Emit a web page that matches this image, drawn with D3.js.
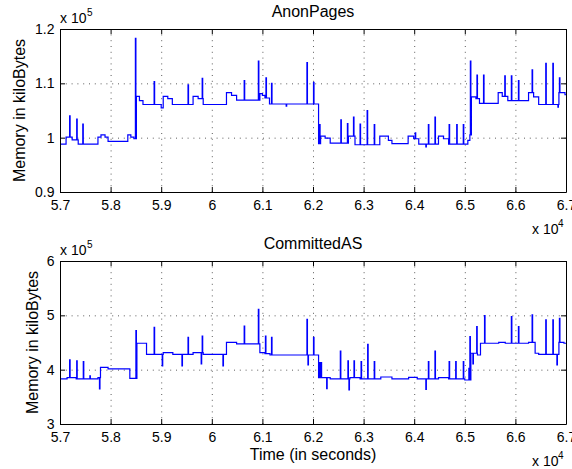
<!DOCTYPE html>
<meta charset="utf-8">
<style>
    body {margin: 0; background: #fff;}
    svg {font-family: 'Liberation Sans', Arial, Helvetica, sans-serif;}
    .grid line {stroke: #333; stroke-width: 0.8; stroke-dasharray: 1,4.8;}
    .grid path {display: none;}
    .axis path, .axis line {stroke: #000; stroke-width: 1;}
    .axis text {font-size: 14px; fill: #000;}
</style>

<svg width="572" height="469"></svg>

<script src="https://cdnjs.cloudflare.com/ajax/libs/d3/7.8.5/d3.min.js"></script>
<script>

// time axis ticks (seconds) and y ticks (kB)
var timeTicks = [57000, 58000, 59000, 60000, 61000, 62000, 63000, 64000, 65000, 66000, 67000];
var anonTicks = [90000, 100000, 110000, 120000];
var committedTicks = [300000, 400000, 500000, 600000];

// AnonPages: step levels [time, kB] and spikes [time, peak kB]
var anonSteps = [
  [57000, 98800], [57120, 100100], [57240, 99600], [57360, 98800], [57750, 100100],
  [57810, 100500], [57890, 100100], [57950, 99300], [58340, 100500], [58400, 100100],
  [58460, 99800], [58510, 107600], [58570, 106800], [58640, 106100], [59000, 105500],
  [59040, 107600], [59130, 107200], [59220, 106100], [59630, 107600], [59730, 107200],
  [59830, 106100], [60290, 108300], [60390, 107800], [60490, 106900], [60950, 108100],
  [61000, 107800], [61050, 107300], [61140, 106200], [62110, 98900], [62150, 100300],
  [62240, 99900], [62340, 99000], [62700, 100300], [62830, 98700], [63320, 100300],
  [63490, 99500], [63560, 98900], [63880, 100300], [63990, 99800], [64090, 98800],
  [64480, 100300], [64580, 99800], [64680, 98800], [65060, 99500], [65100, 100500],
  [65130, 107500], [65220, 107200], [65290, 106300], [65660, 108300], [65740, 107600],
  [65850, 106800], [66260, 108300], [66360, 107500], [66460, 106100], [66860, 108300],
  [66980, 107900], [67000, 107900]
];
var anonSpikes = [
  [57190, 104000], [57330, 103400], [57450, 102500], [58490, 118300], [58860, 110300],
  [59530, 109700], [59810, 110900], [60640, 110500], [60920, 114100], [61070, 111000],
  [61180, 110000], [61470, 105800], [61880, 113800], [62010, 110200], [62130, 102400],
  [62550, 103300], [62680, 102600], [62800, 103800], [62930, 102500], [63070, 105000],
  [63210, 102400], [64020, 100900], [64230, 98300], [64280, 102400], [64410, 103800],
  [64690, 102400], [64840, 102400], [64970, 102400], [65110, 114100], [65240, 111500],
  [65370, 111500], [65790, 111400], [65920, 111400], [66060, 110500], [66330, 112500],
  [66600, 113700], [66740, 113700], [66840, 105600], [66870, 111000]
];

// CommittedAS
var committedSteps = [
  [57000, 382900], [57140, 385300], [57320, 382900], [57750, 385300], [57800, 404400],
  [57950, 401300], [58380, 384100], [58520, 448600], [58710, 428300], [59040, 431300],
  [59230, 428300], [59630, 431300], [59830, 428300], [60290, 450400], [60490, 447300],
  [60950, 431300], [61050, 429500], [61150, 427000], [62110, 385300], [62340, 382900],
  [62730, 385300], [62930, 382900], [63340, 386500], [63560, 382900], [63890, 385700],
  [64060, 382900], [64480, 385300], [64680, 382900], [65000, 381000], [65120, 430200],
  [65250, 427000], [65310, 448600], [65670, 450400], [65800, 448600], [66260, 450400],
  [66390, 430200], [66460, 428300], [66860, 450400], [66960, 448600], [67000, 448600]
];
var committedSpikes = [
  [57190, 417900], [57330, 416000], [57460, 414700], [57590, 388400], [57780, 364500],
  [58500, 471800], [58860, 478000], [59020, 406800], [59410, 406800], [59530, 459600],
  [59790, 410500], [59810, 462000], [60220, 407000], [60640, 480400], [60920, 511200],
  [61060, 462000], [61180, 459600], [61880, 492800], [61900, 408600], [62010, 459600],
  [62130, 412900], [62160, 412900], [62270, 365000], [62540, 434400], [62690, 416000],
  [62710, 362600], [62810, 416000], [62950, 414700], [63080, 446700], [63210, 414700],
  [64230, 363700], [64280, 414700], [64410, 434400], [64690, 414700], [64820, 414700],
  [64970, 414700], [65080, 402600], [65100, 460800], [65160, 410500], [65235, 479100],
  [65390, 499400], [65920, 497600], [66060, 479100], [66330, 500700], [66600, 491500],
  [66740, 491500], [66820, 408600], [66870, 494600]
];

var svg = d3.select("svg");

var x = d3.scaleLinear().domain([57000, 67000]).range([60, 566]);

// merge spikes into the step series (spike goes up, then back to the level it sits on)
function withSpikes(steps, spikes) {
  var pts = steps.map(function(d) { return {t: d[0], v: d[1]}; });
  spikes.forEach(function(s) {
    var base = steps.filter(function(d) { return d[0] <= s[0]; }).pop()[1];
    pts.push({t: s[0], v: s[1]});
    pts.push({t: s[0] + 10, v: base});
  });
  pts.sort(function(a, b) { return a.t - b.t; });
  return pts;
}

function panel(cfg) {
  var y = d3.scaleLinear().domain(cfg.domain).range([cfg.bottom, cfg.top]);
  var h = cfg.bottom - cfg.top;
  var g = svg.append("g");

  // grid
  g.append("g").attr("class", "grid")
    .attr("transform", "translate(0," + cfg.bottom + ")")
    .call(d3.axisBottom(x).tickValues(timeTicks.slice(1, -1)).tickSize(-h).tickFormat(""));
  g.append("g").attr("class", "grid")
    .attr("transform", "translate(60,0)")
    .call(d3.axisLeft(y).tickValues(cfg.ticks.slice(1, -1)).tickSize(-506).tickFormat(""));

  // line
  var clipId = "clip" + cfg.top;
  g.append("clipPath").attr("id", clipId)
    .append("rect").attr("x", 60).attr("y", cfg.top).attr("width", 506).attr("height", h);

  var line = d3.line()
    .x(function(d) { return x(d.t); })
    .y(function(d) { return y(d.v); })
    .curve(d3.curveStepAfter);

  g.append("path")
    .datum(withSpikes(cfg.steps, cfg.spikes))
    .attr("clip-path", "url(#" + clipId + ")")
    .attr("fill", "none")
    .attr("stroke", "#0000ff")
    .attr("stroke-width", 1.2)
    .attr("d", line);

  // axes, ticks pointing inward
  g.append("g").attr("class", "axis")
    .attr("transform", "translate(0," + cfg.bottom + ")")
    .call(d3.axisBottom(x).tickValues(timeTicks).tickSizeInner(-5).tickSizeOuter(0).tickPadding(8)
      .tickFormat(function(d) { return +(d / 1e4).toFixed(1); }));
  g.append("g").attr("class", "axis")
    .attr("transform", "translate(0," + cfg.top + ")")
    .call(d3.axisTop(x).tickValues(timeTicks).tickSizeInner(-5).tickSizeOuter(0).tickFormat(""));
  g.append("g").attr("class", "axis")
    .attr("transform", "translate(60,0)")
    .call(d3.axisLeft(y).tickValues(cfg.ticks).tickSizeInner(-5).tickSizeOuter(0).tickPadding(5.5)
      .tickFormat(function(d) { return +(d / 1e5).toFixed(1); }));
  g.append("g").attr("class", "axis")
    .attr("transform", "translate(566,0)")
    .call(d3.axisRight(y).tickValues(cfg.ticks).tickSizeInner(-5).tickSizeOuter(0).tickFormat(""));

  // title
  g.append("text")
    .attr("x", 313).attr("y", cfg.top - 12)
    .attr("text-anchor", "middle")
    .style("font-size", "16px")
    .text(cfg.title);

  // y label
  g.append("text")
    .attr("transform", "translate(" + cfg.labelX + "," + (cfg.top + h / 2) + ") rotate(-90)")
    .attr("text-anchor", "middle")
    .style("font-size", "16px")
    .text("Memory in kiloBytes");

  // exponent notes
  g.append("text").attr("x", 60).attr("y", cfg.top - 6).style("font-size", "14px").text("x 10");
  g.append("text").attr("x", 87).attr("y", cfg.top - 13).style("font-size", "10px").text("5");
  g.append("text").attr("x", 532).attr("y", cfg.bottom + 42).style("font-size", "14px").text("x 10");
  g.append("text").attr("x", 558).attr("y", cfg.bottom + 35).style("font-size", "10px").text("4");
}

panel({title: "AnonPages", top: 29, bottom: 192, domain: [90000, 120000], ticks: anonTicks,
       steps: anonSteps, spikes: anonSpikes, labelX: 25});
panel({title: "CommittedAS", top: 261, bottom: 424, domain: [300000, 600000], ticks: committedTicks,
       steps: committedSteps, spikes: committedSpikes, labelX: 38});

// x label
svg.append("text")
  .attr("x", 313).attr("y", 460)
  .attr("text-anchor", "middle")
  .style("font-size", "16px")
  .text("Time (in seconds)");

</script>
